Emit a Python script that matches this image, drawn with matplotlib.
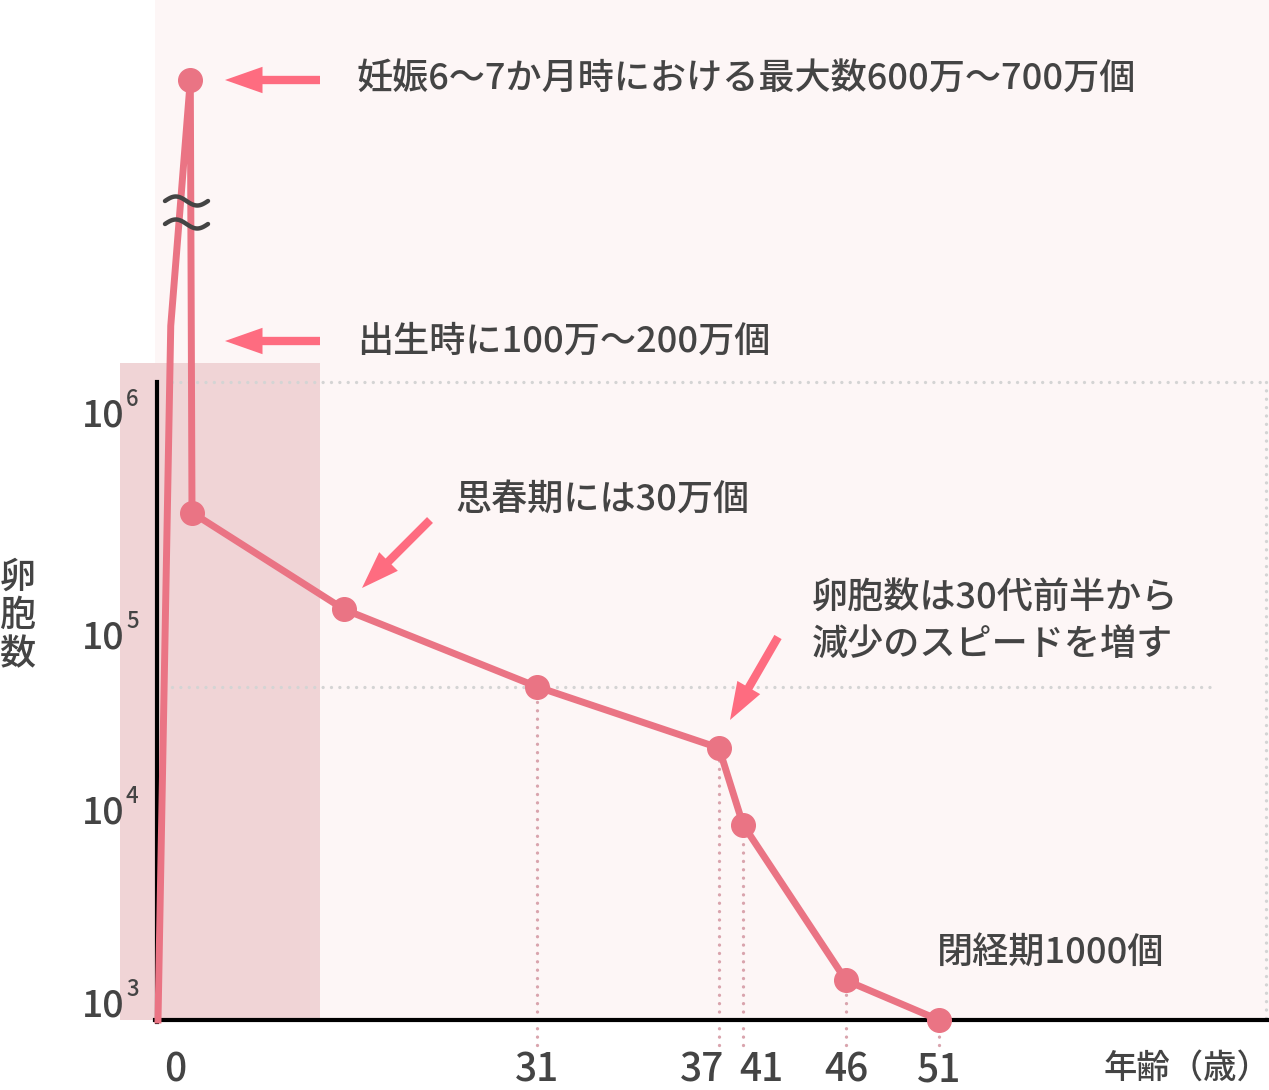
import numpy as np
import matplotlib
matplotlib.use('Agg')
import matplotlib.pyplot as plt
from matplotlib.patches import Rectangle
from matplotlib.lines import Line2D

plt.rcParams['font.family'] = ['Noto Sans CJK JP', 'DejaVu Sans']

# ---------------- data ----------------
stage_age = [-0.8, -0.2, 0.45, 0.5, 12, 31, 37, 41, 46, 51]
follicles = [1000, 1.6e6, 6.3e6, 3.5e5, 1.3e5, 5.1e4, 2.3e4, 8700, 1550, 1000]
marker_idx = [2, 3, 4, 5, 6, 7, 8, 9]
tick_ages = [0, 31, 37, 41, 46, 51]
tick_labels = ['0', '31', '37', '41', '46', '51']
drop_ages = [31, 37, 41, 46, 51]
drop_vals = [5.1e4, 2.3e4, 8700, 1550, 1000]
y_ticks = [1e3, 1e4, 1e5, 1e6]
y_exps = ['3', '4', '5', '6']

W, H = 1269, 1090
fig = plt.figure(figsize=(W / 100, H / 100), dpi=100)
ax = fig.add_axes([0, 0, 1, 1])

# ---------------- illustrative (non-linear) scales ----------------
AGE_A = np.array([-10, -0.8, 0, 0.5, 12, 31, 37, 41, 46, 51, 62, 300])
XPX_A = np.array([-100, 158, 175, 192, 344, 537, 719, 743, 846, 939, 1269, 9000])
LOG_A = np.array([0, 3, 4, 5, 6, 6.8, 9])
YH_A = H - np.array([1644, 1020, 812, 635, 410, 80, -826])


def fx(a):
    return np.interp(a, AGE_A, XPX_A)


def ix(p):
    return np.interp(p, XPX_A, AGE_A)


def fy(v):
    return np.interp(np.log10(np.maximum(v, 1e-300)), LOG_A, YH_A)


def iy(h):
    return 10 ** np.interp(h, YH_A, LOG_A)


ax.set_xscale('function', functions=(fx, ix))
ax.set_yscale('function', functions=(fy, iy))
ax.set_xlim(float(ix(0)), float(ix(W)))
ax.set_ylim(float(iy(0)), float(iy(H)))
ax.axis('off')


def FP(x, y):
    return (x / W, 1 - y / H)


T = fig.transFigure

# backgrounds
ax.add_patch(Rectangle(FP(155, 1020), (W - 155) / W, 1020 / H, transform=T,
                       facecolor='#fdf6f6', edgecolor='none', zorder=0))
ax.add_patch(Rectangle(FP(120, 1020), 200 / W, (1020 - 363) / H, transform=T,
                       facecolor='#f0d4d6', edgecolor='none', zorder=0.5))

dot_line = dict(linestyle=(0, (0.01, 2.5)), dash_capstyle='round', lw=2.4)
dot_coll = dict(linestyle=(0, (0.01, 2.5)), capstyle='round', lw=2.4)
# gray dotted guides
for xs, ys in [((172, 1266), (382, 382)), ((1266, 1266), (382, 1020))]:
    ax.add_line(Line2D([xs[0] / W, xs[1] / W], [1 - ys[0] / H, 1 - ys[1] / H],
                       transform=T, color='#d4d4d4', zorder=1, **dot_line))
ax.hlines(follicles[5], float(ix(172)), float(ix(1210)), color='#d4d4d4', zorder=1, **dot_coll)

# vertical drop lines
drop_bottom = float(iy(H - 1045))
ax.vlines(drop_ages, drop_bottom, drop_vals, color='#d9a4ad', zorder=1, **dot_coll)

# axis frame
ax.add_line(Line2D([157 / W, 157 / W], [1 - 382 / H, 1 - 1022 / H], transform=T,
                   color='black', lw=3, zorder=3))
ax.add_line(Line2D([155 / W, 1], [1 - 1020 / H, 1 - 1020 / H], transform=T,
                   color='black', lw=3, zorder=3))

# main line
ax.plot(stage_age, follicles, color='#ea7484', lw=5, marker='o', ms=17,
        markevery=marker_idx, solid_joinstyle='round', zorder=5, clip_on=False)

# break mark (two wavy strokes)
tt = np.linspace(0, 1, 60)
for cy in (201, 224):
    xs = 165 + 43 * tt
    ys = cy - 4.5 * np.sin(2 * np.pi * tt)
    ax.add_line(Line2D(xs / W, 1 - ys / H, transform=T, color='#444444',
                       lw=3.2, solid_capstyle='round', zorder=6))

TXT = '#444444'
FS = 26
FW = 'medium'
# annotation texts
ax.text(*FP(357, 80), '妊娠6～7か月時における最大数600万～700万個', transform=T,
        ha='left', va='center', fontsize=FS, color=TXT, fontweight=FW)
ax.text(*FP(357, 342), '出生時に100万～200万個', transform=T,
        ha='left', va='center', fontsize=FS, color=TXT, fontweight=FW)
ax.text(*FP(455, 500), '思春期には30万個', transform=T,
        ha='left', va='center', fontsize=FS, color=TXT, fontweight=FW)
ax.text(*FP(812, 598), '卵胞数は30代前半から', transform=T,
        ha='left', va='center', fontsize=FS, color=TXT, fontweight=FW)
ax.text(*FP(812, 645), '減少のスピードを増す', transform=T,
        ha='left', va='center', fontsize=FS, color=TXT, fontweight=FW)
ax.text(*FP(937, 953), '閉経期1000個', transform=T,
        ha='left', va='center', fontsize=FS, color=TXT, fontweight=FW)

# y label (vertical stack)
for ch, yy in zip('卵胞数', [578, 616, 655]):
    ax.text(*FP(18, yy), ch, transform=T, ha='center', va='center',
            fontsize=FS, color=TXT, fontweight=FW)
# x label
ax.text(*FP(1270, 1068), '年齢（歳）', transform=T, ha='right', va='center',
        fontsize=24, color=TXT, fontweight=FW)

# arrows
ARW = '#fe6c80'
for (x0, y0), (x1, y1) in [((320, 80), (225, 80)), ((320, 341), (225, 341)),
                           ((430, 520), (362, 588)), ((778, 637), (730, 720))]:
    ax.annotate('', xy=(x1, H - y1), xycoords='figure pixels',
                xytext=(x0, H - y0), textcoords='figure pixels',
                arrowprops=dict(arrowstyle='simple,head_length=2.7,head_width=1.9,tail_width=0.6',
                                mutation_scale=10, color=ARW, lw=0,
                                shrinkA=0, shrinkB=0), zorder=6)

# x tick labels
x_off = [0, 0, -17, 18, 0, 0]
for a, lab, off in zip(tick_ages, tick_labels, x_off):
    ax.annotate(lab, xy=(a, H - 1070), xycoords=('data', 'figure pixels'),
                xytext=(off, 0), textcoords='offset pixels',
                ha='center', va='center', fontsize=28, color=TXT, fontweight=FW)

# y tick labels
y_off = [15, 0, -2, -5]
for v, e, off in zip(y_ticks, y_exps, y_off):
    ax.annotate('10', xy=(82, v), xycoords=('figure pixels', 'data'),
                xytext=(0, off), textcoords='offset pixels',
                ha='left', va='center', fontsize=27, color=TXT, fontweight=FW)
    ax.annotate(e, xy=(126, v), xycoords=('figure pixels', 'data'),
                xytext=(0, off + 16), textcoords='offset pixels',
                ha='left', va='center', fontsize=16, color=TXT, fontweight=FW)

fig.savefig('out.png', dpi=100, facecolor='white')
